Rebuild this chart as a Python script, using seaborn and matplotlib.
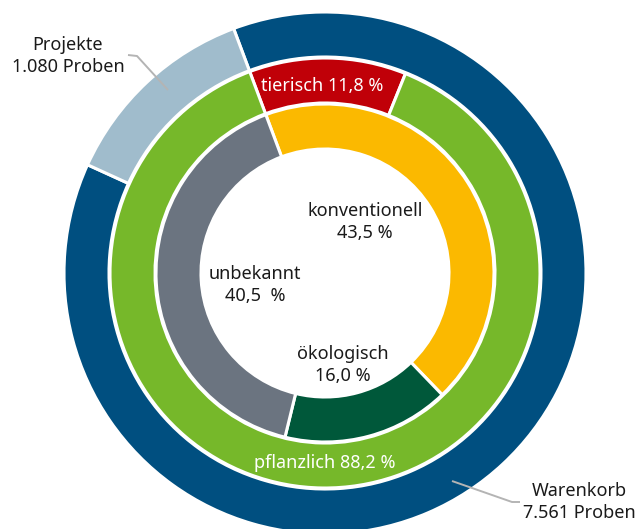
import matplotlib
matplotlib.use('Agg')
import matplotlib.pyplot as plt
import seaborn as sns

# outer ring: number of samples
outer_labels = ['Warenkorb', 'Projekte']
outer_values = [7561, 1080]
# middle ring: share in percent
middle_labels = ['tierisch', 'pflanzlich']
middle_values = [11.8, 88.2]
# inner ring: share in percent
inner_labels = ['konventionell', 'ökologisch', 'unbekannt']
inner_values = [43.5, 16.0, 40.5]

sns.set_theme(style='white')
plt.rcParams['font.family'] = ['Noto Sans', 'DejaVu Sans']

outer_colors = ['#004F80', '#A0BCCC']
middle_colors = ['#C00008', '#76B82A']
inner_colors = ['#FBB900', '#00583A', '#6B7480']

fig = plt.figure(figsize=(6.37, 5.29), dpi=100)
ax = fig.add_axes([0, 0, 1, 1])

# work in pixel units, y pointing up
H = 529
cx, cy = 325, H - 273
wedge = dict(edgecolor='white', linewidth=2.2)

ax.pie(outer_values, colors=outer_colors, radius=261, center=(cx, cy),
       startangle=110.5, counterclock=False,
       wedgeprops=dict(width=45, **wedge))
ax.pie(middle_values, colors=middle_colors, radius=215, center=(cx, cy),
       startangle=110.5, counterclock=False,
       wedgeprops=dict(width=45, **wedge))
ax.pie(inner_values, colors=inner_colors, radius=169, center=(cx, cy),
       startangle=110.5, counterclock=False,
       wedgeprops=dict(width=45, **wedge))

ax.set_xlim(0, 637)
ax.set_ylim(0, H)
ax.set_aspect('equal')
ax.axis('off')

def fmt(v):
    return f'{v:.1f}'.replace('.', ',')

fs = 13
dark = '#1a1a1a'
ax.text(322, H - 86, f'{middle_labels[0]} {fmt(middle_values[0])} %', color='white',
        fontsize=fs, ha='center', va='center')
ax.text(325, H - 463, f'{middle_labels[1]} {fmt(middle_values[1])} %', color='white',
        fontsize=fs, ha='center', va='center')
ax.text(365, H - 222, f'{inner_labels[0]}\n{fmt(inner_values[0])} %', color=dark,
        fontsize=fs, ha='center', va='center', linespacing=1.35)
ax.text(343, H - 365, f'{inner_labels[1]}\n{fmt(inner_values[1])} %', color=dark,
        fontsize=fs, ha='center', va='center', linespacing=1.35)
ax.text(255, H - 285, f'{inner_labels[2]}\n{fmt(inner_values[2])}  %', color=dark,
        fontsize=fs, ha='center', va='center', linespacing=1.35)

def count(v):
    return f'{v:,}'.replace(',', '.')

ax.text(68, H - 56, f'{outer_labels[1]}\n{count(outer_values[1])} Proben', color=dark,
        fontsize=fs, ha='center', va='center', linespacing=1.35)
ax.text(579, H - 502, f'{outer_labels[0]}\n{count(outer_values[0])} Proben', color=dark,
        fontsize=fs, ha='center', va='center', linespacing=1.35)

line_kw = dict(color='#B4B4B4', linewidth=1.4, solid_capstyle='butt')
ax.plot([128, 137, 168], [H - 55, H - 56, H - 90], **line_kw)
ax.plot([452, 512, 520], [H - 481, H - 502, H - 502], **line_kw)

fig.savefig('out.png', dpi=100)
